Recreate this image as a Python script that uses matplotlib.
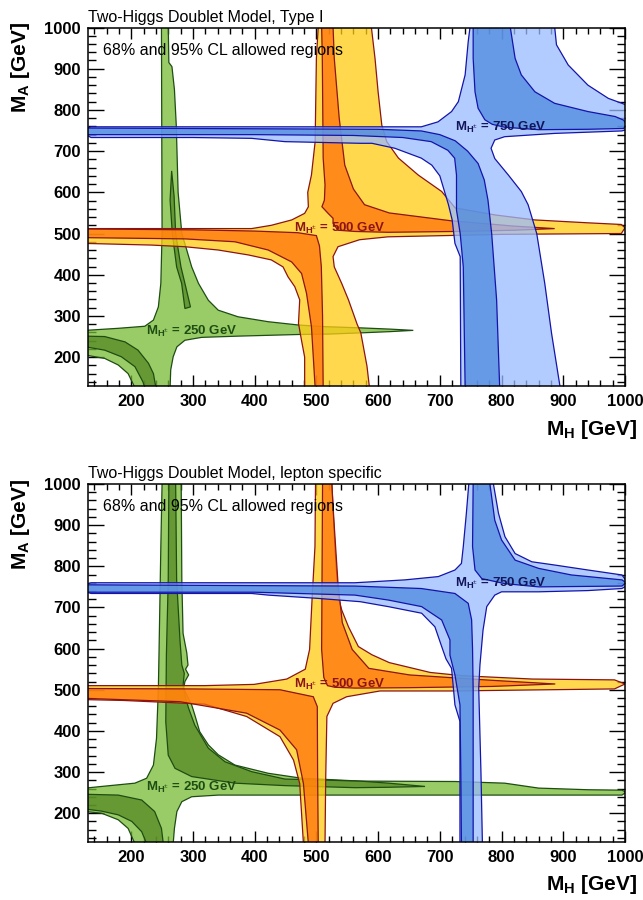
import numpy as np
import matplotlib
matplotlib.use("Agg")
import matplotlib.pyplot as plt
from matplotlib.patches import Polygon
from matplotlib.colors import to_rgb

plt.rcParams['font.family'] = ['Liberation Sans', 'DejaVu Sans']
plt.rcParams['mathtext.fontset'] = 'custom'
plt.rcParams['mathtext.rm'] = 'Liberation Sans'
plt.rcParams['mathtext.bf'] = 'Liberation Sans:bold'
plt.rcParams['mathtext.it'] = 'Liberation Sans:italic'

# ---------------- data (M_H, M_A) in GeV ----------------
titles = ["Two-Higgs Doublet Model, Type I", "Two-Higgs Doublet Model, lepton specific"]
mhpm_labels = ["250", "500", "750"]
label_pos_mh = [298, 537, 799]
label_pos_ma = [263, 512, 758]
xticks = [200, 300, 400, 500, 600, 700, 800, 900, 1000]
yticks = [200, 300, 400, 500, 600, 700, 800, 900, 1000]

# ---- Type I ----
t1_green95 = [(249,1002),(260,1002),(261,915),(266,905),(270,850),(273,763),(276,600),(282,500),(290,460),
              (298,419),(309,379),(325,338),(341,314),(373,298),(422,286),(471,278),(514,274),(573,271),
              (620,268),(657,265),(620,262),(573,259),(520,256),(471,255),(373,251),(314,248),(287,241),
              (274,225),(268,201),(264,169),(263,126),(206,126),(195,160),(179,181),(157,197),(126,205),
              (126,265),(179,270),(222,275),(236,290),(244,322),(248,379),(250,500)]
t1_green68_a = [(126,251),(157,250),(190,237),(211,217),(228,185),(236,160),(240,126),(222,126),(219,140),
                (206,177),(184,201),(157,217),(126,225)]
t1_green68_b = [(265.5,652),(269.5,590),(272,500),(280.6,419),(287,379),(296,322),(287,318),(281.7,379),
                (273.6,419),(266.6,500),(263,581)]
t1_yellow95 = [(503,1002),(589,1002),(595,925),(600,844),(606,763),(614,723),(633,683),(665,642),(703,602),
               (725,562),(790,545),(854,533),(940,526),(994,522),(1000,514),(994,500),(800,498),(616,492),
               (570,485),(535,468),(527,444),(529,419),(541,379),(552,339),(566,280),(572,259),(582,178),
               (586,126),(481,126),(481,200),(476,240),(471,282),(473,339),(465,371),(454,395),(446,419),
               (427,436),(390,448),(341,460),(287,468),(233,472),(126,476),(126,512),(287,512),(395,512),
               (427,520),(460,533),(481,549),(487,565),(486,600),(492,642),(498,723),(500,925)]
t1_orange68_a = [(126,490),(287,487),(368,480),(422,460),(460,431),(476,403),(484,355),(492,274),(498,126),
                 (511,126),(510,300),(508,420),(505,470),(500,495),(470,502),(400,506),(300,509),(126,511)]
t1_orange68_b = [(508.5,1002),(527,1002),(529,925),(537,780),(546,666),(560,608),(578,570),(618,550),
                 (718,531),(820,518),(886,512),(820,508),(725,505),(616,503),(563,505),(535,508),(527,525),
                 (527,537),(519,549),(509,565),(513,581),(514,618),(511,683),(509.6,925)]
t1_blue95 = [(749,1002),(886,1002),(889,958),(908,909),(940,860),(973,828),(995,816),(1002,812),(1002,752),
             (995,749),(886,743),(805,735),(789,727),(783,707),(789,682),(811,642),(832,602),(843,570),
             (857,500),(870,379),(881,258),(895,126),(734,126),(733,444),(724.5,476),(720,533),(714,570),
             (706,610),(700,640),(687,666),(670,683),(627,707),(590,719),(571,719),(449,723),(395,731),
             (300,733),(135,733),(126,740),(126,755),(135,759),(670,759),(697,771),(719,796),(730,820),
             (741,885),(746,966)]
t1_blue68_a = [(126,756),(600,753),(670,749),(700,740),(725,725),(745,700),(762,670),(772,630),(778,581),
               (784,500),(792,339),(797,126),(741,126),(738,419),(733,500),(727,557),(727,642),(724,683),
               (713,702),(686,723),(640,733),(560,738),(400,740),(126,740)]
t1_blue68_b = [(754,1002),(814,1002),(822,925),(832,885),(854,844),(886,816),(940,796),(984,784),(998,775),
               (1002,765),(998,755),(940,753),(860,752),(805,758),(785,765),(773,776),(762,804),(757,844),
               (754,925)]

# ---- lepton specific ----
ls_green95 = [(250,1002),(281,1002),(282,767),(284,637),(290,590),(292,560),(288,550),(293,536),(287,520),
              (285,503),(298,463),(303,439),(311,398),(325,366),(341,342),(368,317),(422,297),(476,285),
              (571,278),(725,277),(805,273),(860,261),(940,257),(995,256),(1002,251),(995,244),(725,244),
              (563,244),(341,244),(298,240),(282,228),(274,204),(270,163),(268,126),(206,126),(195,163),
              (179,184),(152,200),(126,204),(126,261),(152,265),(206,273),(225,285),(236,317),(241,382),
              (244,504),(245,585),(248,848)]
ls_green68_a = [(126,246),(179,244),(217,232),(238,204),(249,163),(252,126),(225,126),(217,155),(201,180),
                (179,196),(152,205),(126,210)]
ls_green68_b = [(261,1002),(272,1002),(273.6,767),(279,621),(282,560),(286,540),(284,510),(288,480),
                (293,455),(303,414),(325,358),(352,325),(395,301),(449,283),(571,278),(617,273),(676,265),
                (617,263),(563,262),(449,267),(368,273),(298,289),(271,309),(260,341),(256,422),(257,585),
                (260,767)]
ls_yellow95 = [(498.6,1002),(525,1002),(530,848),(535.5,726),(541,694),(552,653),(568,605),(590,585),
               (618,566),(684.5,542),(737.6,534),(850,526),(983,524),(1000,514),(983,502),(718,497),
               (603,497),(549,483),(527,467),(517,435),(515,275),(514,126),(479,126),(473,272),(463,329),
               (441,386),(387,435),(319,465),(187,474),(126,476),(126,510),(319,510),(399,513),(452,526),
               (482,550),(489,598),(493,720),(497.7,848)]
ls_orange68_a = [(126,479),(279,471),(387,443),(441,402),(468,354),(479,272),(487,126),(503,126),(502,300),
                 (501.5,459),(495,483),(441,500),(300,502),(126,503)]
ls_orange68_b = [(510,1002),(525,1002),(528,921),(535,759),(542,663),(558,598),(585,552),(651,536),
                 (784,523),(887,514),(784,508),(650,505),(563,504),(530,506),(518,510),(512,530),
                 (508.5,598)]
ls_blue95 = [(747,1002),(743,929),(738,848),(735,807),(724.5,791),(697.5,775),(643.5,767),(562.5,760),
             (135,760),(126,756),(126,738),(135,734),(395,734),(422,730),(503,722),(571,714),(616.5,702),
             (670.5,686),(692,653),(703,605),(710,575),(719,552),(722,504),(724.5,463),(732.6,423),
             (732.6,126),(769,126),(766.6,301),(763,504),(765,560),(770,645),(776,702),(789,730),(800,738),
             (860,738),(940,741),(995,746),(1002,752),(1002,765),(995,779),(940,791),(886.5,803),(849,811),
             (822,831),(805.5,872),(795,929),(786.6,1002)]
ls_blue68_a = [(126,755),(562,752),(670,746),(724.5,734),(746,710),(751.5,670),(753,600),(754,500),(754,126),
               (735,126),(734,300),(732.6,463),(724.5,536),(716.4,584),(716.4,621),(703,669.5),(670.5,702),
               (616.5,718),(562.5,730),(400,737),(126,737)]
ls_blue68_b = [(754,1002),(781,1002),(789,912),(800,864),(822,815),(860,795),(913,779),(995,767),(1002,760),
               (995,752),(860,750),(805,758),(768,770),(757,791),(753,848)]

panels = [
    dict(green=(t1_green95, [t1_green68_a, t1_green68_b]),
         orange=(t1_yellow95, [t1_orange68_a, t1_orange68_b]),
         blue=(t1_blue95, [t1_blue68_a, t1_blue68_b])),
    dict(green=(ls_green95, [ls_green68_a, ls_green68_b]),
         orange=(ls_yellow95, [ls_orange68_a, ls_orange68_b]),
         blue=(ls_blue95, [ls_blue68_a, ls_blue68_b])),
]

# ---------------- styles ----------------
ALPHA = 0.75
styles = {
    'green':  dict(light='#99cc66', dark='#669933', edge='#1e4d14', text='#1e4d14'),
    'orange': dict(light='#ffd94d', dark='#ff8c1a', edge='#8c1414', text='#8c1414'),
    'blue':   dict(light='#b3ccff', dark='#6699e6', edge='#1414aa', text='#14145a'),
}

def comp(target, under, a=ALPHA):
    t = np.array(to_rgb(target)); u = np.array(to_rgb(under))
    return tuple(np.clip((t - (1 - a) * u) / a, 0, 1))

fig = plt.figure(figsize=(6.43, 9.0), dpi=100)
axes_rects = [[88/643, 1-386/900, 537/643, 358.5/900],
              [88/643, 1-842/900, 537/643, 358/900]]

for i, (rect, pdata) in enumerate(zip(axes_rects, panels)):
    ax = fig.add_axes(rect)
    for k, key in enumerate(['green', 'orange', 'blue']):
        st = styles[key]
        light_poly, dark_polys = pdata[key]
        lc = comp(st['light'], '#ffffff')
        dc = comp(st['dark'], st['light'])
        ax.add_patch(Polygon(light_poly, closed=True, facecolor=lc, alpha=ALPHA,
                             edgecolor='none', zorder=2 + k))
        ax.add_patch(Polygon(light_poly, closed=True, facecolor='none',
                             edgecolor=st['edge'], lw=0.9, zorder=2 + k))
        for dp in dark_polys:
            ax.add_patch(Polygon(dp, closed=True, facecolor=dc, alpha=ALPHA,
                                 edgecolor='none', zorder=2 + k))
            ax.add_patch(Polygon(dp, closed=True, facecolor='none',
                                 edgecolor=st['edge'], lw=0.9, zorder=2 + k))
        ax.text(label_pos_mh[k], label_pos_ma[k],
                r'$\mathbf{M}_{\mathbf{H}^{\pm}}$ = ' + mhpm_labels[k] + ' GeV',
                ha='center', va='center', fontsize=9.5, fontweight='bold',
                color=st['text'], zorder=10)

    ax.set_xlim(130, 1000)
    ax.set_ylim(130, 1000)
    ax.set_xticks(xticks)
    ax.set_yticks(yticks)
    ax.set_xticks(np.arange(140, 1001, 20), minor=True)
    ax.set_yticks(np.arange(140, 1001, 20), minor=True)
    ax.tick_params(axis='x', which='major', direction='in', length=8, width=1.0,
                   top=True, bottom=True, labelsize=12, pad=6)
    ax.tick_params(axis='x', which='minor', direction='in', length=4, width=1.0,
                   top=True, bottom=True)
    ax.tick_params(axis='y', which='major', direction='in', length=11.5, width=1.0,
                   left=True, right=True, labelsize=12, pad=5)
    ax.tick_params(axis='y', which='minor', direction='in', length=5.8, width=1.0,
                   left=True, right=True)
    for lab in ax.get_xticklabels() + ax.get_yticklabels():
        lab.set_fontweight('bold')
    for sp in ax.spines.values():
        sp.set_linewidth(1.1)
        sp.set_zorder(20)

    ax.text(0.0, 1.008, titles[i], transform=ax.transAxes, ha='left', va='bottom', fontsize=11.5)
    ax.text(0.028, 0.937, "68% and 95% CL allowed regions", transform=ax.transAxes,
            ha='left', va='center', fontsize=11.5, zorder=15)
    ax.text(1.022, -0.12, r'$\mathbf{M}_{\mathbf{H}}$ [GeV]', transform=ax.transAxes,
            ha='right', va='center', fontsize=15, fontweight='bold')
    ax.text(-0.125, 1.015, r'$\mathbf{M}_{\mathbf{A}}$ [GeV]', transform=ax.transAxes,
            ha='center', va='top', rotation=90, fontsize=15, fontweight='bold')

fig.savefig('out.png', dpi=100)
